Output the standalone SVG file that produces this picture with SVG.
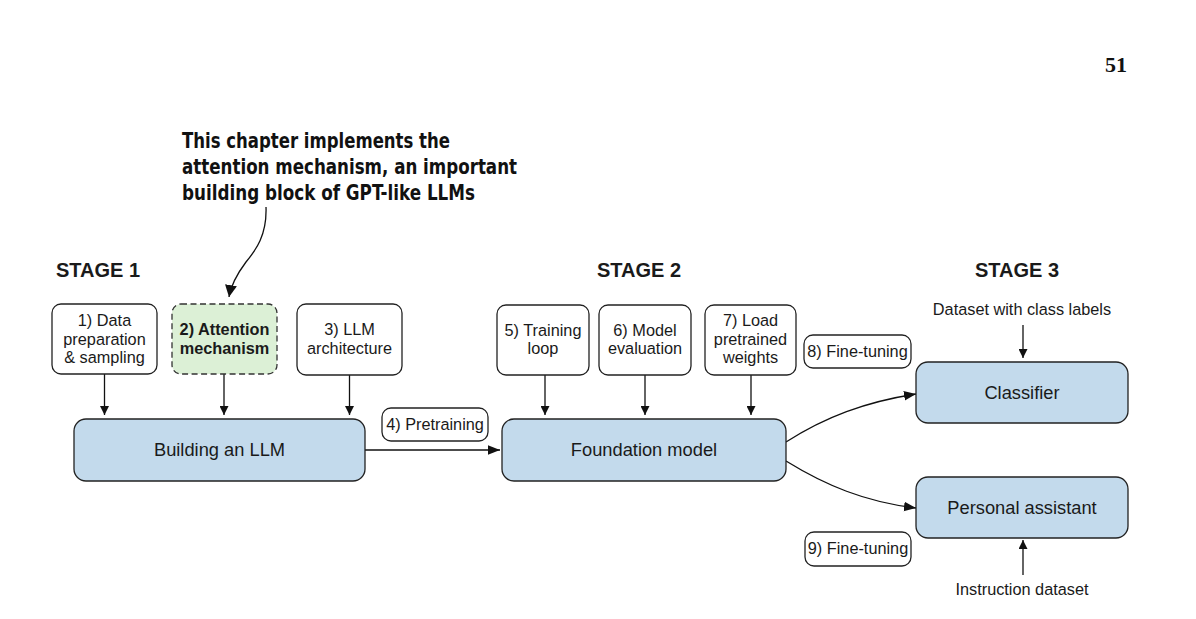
<svg xmlns="http://www.w3.org/2000/svg" width="1196" height="619" viewBox="0 0 1196 619">
<defs>
<marker id="ah" viewBox="0 0 10 10" refX="10" refY="5" markerWidth="9" markerHeight="9" markerUnits="userSpaceOnUse" orient="auto">
<path d="M0,0 L10,5 L0,10 z" fill="#111"/>
</marker>
<marker id="ahl" viewBox="0 0 10 10" refX="10" refY="5" markerWidth="12" markerHeight="12" markerUnits="userSpaceOnUse" orient="auto">
<path d="M0,1 L10,5 L0,9 z" fill="#111"/>
</marker>
<marker id="ahb" viewBox="0 0 10 10" refX="10" refY="5" markerWidth="12" markerHeight="12" markerUnits="userSpaceOnUse" orient="auto">
<path d="M0,0 L10,5 L0,10 z" fill="#111"/>
</marker>
<style>
text{font-family:"Liberation Sans",Arial,sans-serif;fill:#1a1a1a}
.small{font-size:16.3px;text-anchor:middle}
.big{font-size:18.3px;text-anchor:middle}
.stage{font-size:20px;font-weight:bold}
.wbox{fill:#fff;stroke:#222;stroke-width:1.3}
.bbox{fill:#c3daec;stroke:#222;stroke-width:1.3}
.gbox{fill:#dcf0d6;stroke:#333;stroke-width:1.3;stroke-dasharray:6 3.5}
.conn{fill:none;stroke:#111;stroke-width:1.3}
.ann{font-family:"Liberation Sans Narrow","DejaVu Sans Condensed","Liberation Sans",sans-serif;font-weight:bold;font-size:22px;fill:#111}
</style>
</defs>
<rect width="1196" height="619" fill="#fff"/>
<text x="1127" y="72" text-anchor="end" style="font-family:'Liberation Serif','Times New Roman',serif;font-weight:bold;font-size:22px;fill:#111">51</text>

<g id="annotation">
<text class="ann" x="182" y="148" textLength="268" lengthAdjust="spacingAndGlyphs">This chapter implements the</text>
<text class="ann" x="182" y="174" textLength="335" lengthAdjust="spacingAndGlyphs">attention mechanism, an important</text>
<text class="ann" x="182" y="200" textLength="293" lengthAdjust="spacingAndGlyphs">building block of GPT-like LLMs</text>
</g>

<g id="stage-labels">
<text class="stage" x="56" y="277">STAGE 1</text>
<text class="stage" x="597" y="277">STAGE 2</text>
<text class="stage" x="975" y="277">STAGE 3</text>
</g>

<g id="connectors">
<path class="conn" d="M266,207 C267,235 256,250 246,262 C237,274 231,285 229,297" marker-end="url(#ahb)"/>
<line class="conn" x1="104.5" y1="374" x2="104.5" y2="415" marker-end="url(#ah)"/>
<line class="conn" x1="224" y1="374" x2="224" y2="415" marker-end="url(#ah)"/>
<line class="conn" x1="349.5" y1="375" x2="349.5" y2="415" marker-end="url(#ah)"/>
<line class="conn" x1="365" y1="450" x2="500" y2="450" marker-end="url(#ahl)"/>
<line class="conn" x1="545" y1="375" x2="545" y2="415" marker-end="url(#ah)"/>
<line class="conn" x1="645" y1="375" x2="645" y2="415" marker-end="url(#ah)"/>
<line class="conn" x1="751" y1="375" x2="751" y2="415" marker-end="url(#ah)"/>
<path class="conn" d="M786,442 C825,417 865,402 916,394" marker-end="url(#ahl)"/>
<path class="conn" d="M786,461 C825,485 865,502 916,508" marker-end="url(#ahl)"/>
<line class="conn" x1="1023" y1="325" x2="1023" y2="358" marker-end="url(#ah)"/>
<line class="conn" x1="1023" y1="575" x2="1023" y2="540" marker-end="url(#ah)"/>
</g>

<g id="n1">
<rect class="wbox" x="52" y="304" width="105" height="70" rx="9"/>
<text class="small" x="104.5" y="326">1) Data</text>
<text class="small" x="104.5" y="344.5">preparation</text>
<text class="small" x="104.5" y="363">&amp; sampling</text>
</g>
<g id="n2">
<rect class="gbox" x="172" y="304" width="105" height="70" rx="9"/>
<text class="small" x="224.5" y="335" font-weight="bold">2) Attention</text>
<text class="small" x="224.5" y="353.5" font-weight="bold">mechanism</text>
</g>
<g id="n3">
<rect class="wbox" x="297" y="304" width="105" height="71" rx="9"/>
<text class="small" x="349.5" y="335">3) LLM</text>
<text class="small" x="349.5" y="353.5">architecture</text>
</g>
<g id="n-building">
<rect class="bbox" x="74" y="419" width="291" height="62" rx="12"/>
<text class="big" x="219.5" y="456">Building an LLM</text>
</g>
<g id="n4">
<rect class="wbox" x="382" y="408" width="106" height="33" rx="9"/>
<text class="small" x="435" y="430">4) Pretraining</text>
</g>
<g id="n5">
<rect class="wbox" x="497" y="305" width="92" height="70" rx="9"/>
<text class="small" x="543" y="336">5) Training</text>
<text class="small" x="543" y="354">loop</text>
</g>
<g id="n6">
<rect class="wbox" x="599" y="305" width="92" height="70" rx="9"/>
<text class="small" x="645" y="336">6) Model</text>
<text class="small" x="645" y="354">evaluation</text>
</g>
<g id="n7">
<rect class="wbox" x="705" y="305" width="91" height="70" rx="9"/>
<text class="small" x="750.5" y="326">7) Load</text>
<text class="small" x="750.5" y="344.5">pretrained</text>
<text class="small" x="750.5" y="363">weights</text>
</g>
<g id="n8">
<rect class="wbox" x="804" y="335" width="107" height="33" rx="9"/>
<text class="small" x="857.5" y="357">8) Fine-tuning</text>
</g>
<g id="n-foundation">
<rect class="bbox" x="502" y="419" width="284" height="62" rx="12"/>
<text class="big" x="644" y="456">Foundation model</text>
</g>
<g id="n-classifier-input">
<text class="small" x="1022" y="315">Dataset with class labels</text>
</g>
<g id="n-classifier">
<rect class="bbox" x="916" y="362" width="212" height="61" rx="12"/>
<text class="big" x="1022" y="399">Classifier</text>
</g>
<g id="n-assistant">
<rect class="bbox" x="916" y="477" width="212" height="61" rx="12"/>
<text class="big" x="1022" y="514">Personal assistant</text>
</g>
<g id="n9">
<rect class="wbox" x="805" y="532" width="106" height="34" rx="9"/>
<text class="small" x="858" y="554">9) Fine-tuning</text>
</g>
<g id="n-assistant-input">
<text class="small" x="1022" y="595">Instruction dataset</text>
</g>
</svg>
